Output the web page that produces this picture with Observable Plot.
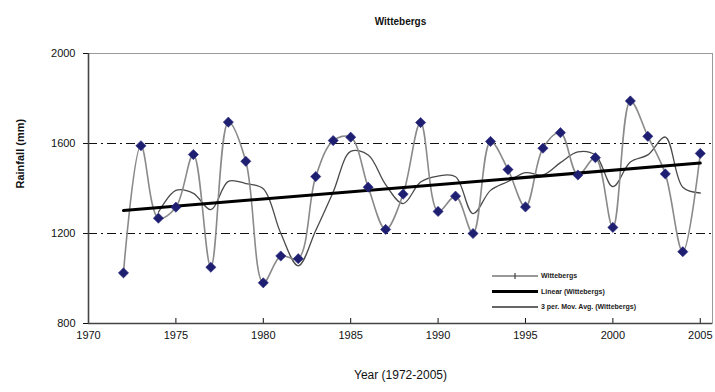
<!DOCTYPE html>
<html>
<head>
<meta charset="utf-8">
<script src="https://cdn.jsdelivr.net/npm/d3@7"></script>
<script src="https://cdn.jsdelivr.net/npm/@observablehq/plot@0.6"></script>
<style>
  html, body { margin: 0; padding: 0; background: #fff; }
  #wrap { position: relative; width: 715px; height: 392px; font-family: "Liberation Sans", Arial, sans-serif; }
  #legend { position: absolute; left: 0; top: 0; pointer-events: none; }
</style>
</head>
<body>
<div id="wrap"></div>
<script>
const station = "Wittebergs";
const chartTitle = station;
const yLabel = "Rainfall (mm)";
const xLabel = "Year (1972-2005)";
const years = [1972,1973,1974,1975,1976,1977,1978,1979,1980,1981,1982,1983,1984,1985,1986,1987,1988,1989,1990,1991,1992,1993,1994,1995,1996,1997,1998,1999,2000,2001,2002,2003,2004,2005];
const rainfall = [1025,1590,1268,1317,1551,1050,1695,1521,981,1100,1088,1453,1613,1628,1406,1218,1375,1693,1298,1366,1200,1609,1484,1318,1579,1648,1460,1537,1227,1789,1632,1465,1119,1556];
const xTicks = [1970,1975,1980,1985,1990,1995,2000,2005];
const yTicks = [800,1200,1600,2000];
const gridValues = [1200,1600];
const legendLabels = [station, "Linear (" + station + ")", "3 per. Mov. Avg. (" + station + ")"];

const data = years.map((y, i) => ({year: y, value: rainfall[i]}));

const chart = Plot.plot({
  width: 715,
  height: 392,
  marginLeft: 88,
  marginRight: 3,
  marginTop: 53,
  marginBottom: 69,
  style: {fontFamily: "'Liberation Sans', Arial, sans-serif", fontSize: "11px", background: "#fff", color: "#111"},
  x: {domain: [1970, 2005.7], ticks: xTicks, tickFormat: d => String(d)},
  y: {domain: [800, 2000], ticks: yTicks, tickFormat: d => String(d)},
  marks: [
    Plot.frame({stroke: "#9a9a9a", strokeWidth: 1}),
    Plot.ruleY(gridValues, {stroke: "#111", strokeWidth: 1.1, strokeDasharray: "9,4,2,4"}),
    Plot.axisY({ticks: yTicks, tickSize: 5, tickPadding: 8, label: null, tickFormat: d => String(d), fontSize: 11}),
    Plot.axisX({ticks: xTicks, tickSize: -5, tickPadding: 13, label: null, tickFormat: d => String(d), fontSize: 11}),
    Plot.ruleX([1970], {stroke: "#444", strokeWidth: 1.6}),
    Plot.ruleY([800], {stroke: "#444", strokeWidth: 1.6}),
    Plot.line(data, Plot.windowY({k: 3, anchor: "end", strict: true, reduce: "mean"}, {x: "year", y: "value", stroke: "#4a4a4a", strokeWidth: 1.3, curve: "catmull-rom"})),
    Plot.line(data, {x: "year", y: "value", stroke: "#8a8a8a", strokeWidth: 1.6, curve: "catmull-rom"}),
    Plot.linearRegressionY(data, {x: "year", y: "value", stroke: "#000", strokeWidth: 3, ci: 0}),
    Plot.dot(data, {x: "year", y: "value", symbol: "diamond2", r: 4.6, fill: "#1f1f72", stroke: "#2a2a80", strokeWidth: 0.6}),
    Plot.text([chartTitle], {frameAnchor: "top", dy: -36, fontSize: 10, fontWeight: "bold", fill: "#111"}),
    Plot.text([yLabel], {frameAnchor: "left", dx: -68, rotate: -90, fontSize: 11, fontWeight: "bold", fill: "#111"}),
    Plot.text([xLabel], {frameAnchor: "bottom", dy: 55, fontSize: 12, fill: "#111"})
  ]
});
const wrap = document.getElementById("wrap");
wrap.appendChild(chart);

// legend overlay
const ns = "http://www.w3.org/2000/svg";
const lg = document.createElementNS(ns, "svg");
lg.setAttribute("id", "legend");
lg.setAttribute("width", 715);
lg.setAttribute("height", 392);
const styles = [
  {stroke: "#777", w: 1.4, marker: true},
  {stroke: "#000", w: 3, marker: false},
  {stroke: "#666", w: 1.8, marker: false}
];
const lx0 = 492, lx1 = 538, ly0 = 276, ldy = 15.5;
legendLabels.forEach((lab, i) => {
  const y = ly0 + i * ldy;
  const ln = document.createElementNS(ns, "line");
  ln.setAttribute("x1", lx0); ln.setAttribute("x2", lx1);
  ln.setAttribute("y1", y); ln.setAttribute("y2", y);
  ln.setAttribute("stroke", styles[i].stroke);
  ln.setAttribute("stroke-width", styles[i].w);
  lg.appendChild(ln);
  if (styles[i].marker) {
    const m = document.createElementNS(ns, "line");
    m.setAttribute("x1", 515); m.setAttribute("x2", 515);
    m.setAttribute("y1", y - 3); m.setAttribute("y2", y + 3);
    m.setAttribute("stroke", "#444"); m.setAttribute("stroke-width", 1.2);
    lg.appendChild(m);
  }
  const t = document.createElementNS(ns, "text");
  t.setAttribute("x", lx1 + 3);
  t.setAttribute("y", y);
  t.setAttribute("dy", "0.35em");
  t.setAttribute("font-size", "7");
  t.setAttribute("font-weight", "bold");
  t.setAttribute("font-family", "'Liberation Sans', Arial, sans-serif");
  t.setAttribute("fill", "#222");
  t.textContent = lab;
  lg.appendChild(t);
});
wrap.appendChild(lg);
</script>
</body>
</html>
